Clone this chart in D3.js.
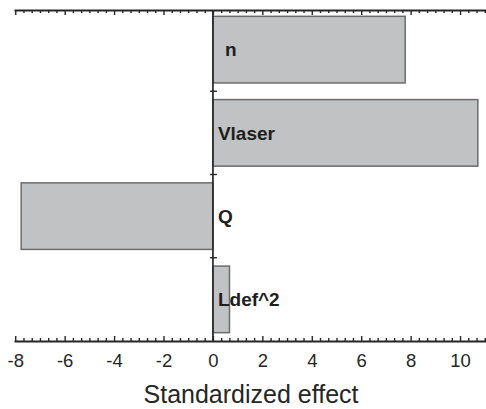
<!DOCTYPE html>
<html>
<head>
<meta charset="utf-8">
<script src="https://cdn.jsdelivr.net/npm/d3@7"></script>
<style>
  html, body { margin: 0; padding: 0; background: #fff; }
  svg { display: block; font-family: "Liberation Sans", Arial, sans-serif; }
</style>
</head>
<body>
<svg id="chart" width="486" height="409"></svg>
<script>
// Pareto-style effects: factor names and their standardized effects
const factors = ["n", "Vlaser", "Q", "Ldef^2"];
const effects = [7.78, 10.72, -7.76, 0.67];
const majorTicks = [-8, -6, -4, -2, 0, 2, 4, 6, 8, 10];
const axisTitle = "Standardized effect";

const svg = d3.select("#chart");

const x = d3.scaleLinear().domain([-8.05, 11.05]).range([14, 486]);
const y = d3.scaleBand().domain(factors).range([8, 341])
  .paddingInner(0.2).paddingOuter(0.1);

const yTop = 10, yBottom = 341;
const axisColor = "#262626";

// minor ticks every third of a unit, skipping the majors
const minorValues = d3.range(-24, 34).map(i => i / 3)
  .filter(v => v <= 11.05 && Math.abs(v / 2 - Math.round(v / 2)) > 1e-6);

// bars
svg.append("g").selectAll("rect")
  .data(factors)
  .join("rect")
  .attr("x", (d, i) => x(Math.min(0, effects[i])))
  .attr("width", (d, i) => Math.abs(x(effects[i]) - x(0)))
  .attr("y", d => y(d))
  .attr("height", y.bandwidth())
  .attr("fill", "#c0c2c4")
  .attr("stroke", "#6c6c6c")
  .attr("stroke-width", 1.5);

// draws the minor tick marks of one horizontal axis, without labels
function minorTicksInto(g, axisFn) {
  const m = g.append("g").call(axisFn(x).tickValues(minorValues).tickSize(-3).tickSizeOuter(0));
  m.select(".domain").remove();
  m.selectAll("text").remove();
}

// bottom axis with inward ticks
const bottomAxis = svg.append("g").attr("transform", `translate(0,${yBottom})`);
bottomAxis.call(d3.axisBottom(x).tickValues(majorTicks).tickSize(-5).tickSizeOuter(0)
  .tickPadding(13).tickFormat(d => d < 0 ? "-" + Math.abs(d) : String(d)));
minorTicksInto(bottomAxis, d3.axisBottom);

// top axis, ticks only
const topAxis = svg.append("g").attr("transform", `translate(0,${yTop})`);
topAxis.call(d3.axisTop(x).tickValues(majorTicks).tickSize(-5).tickSizeOuter(0));
topAxis.selectAll("text").remove();
minorTicksInto(topAxis, d3.axisTop);

svg.selectAll(".domain, .tick line")
  .attr("stroke", axisColor)
  .attr("stroke-width", 1.4);
svg.selectAll(".domain").attr("stroke-width", 1.8);

bottomAxis.selectAll("text")
  .attr("font-size", 18.5)
  .attr("fill", "#262626")
  .attr("font-family", "Liberation Sans, Arial, sans-serif");

// zero line with category boundary ticks
const x0 = x(0);
svg.append("line")
  .attr("x1", x0).attr("x2", x0)
  .attr("y1", yTop).attr("y2", yBottom)
  .attr("stroke", axisColor).attr("stroke-width", 1.7);

const step = y.step();
svg.append("g").selectAll("line")
  .data(factors.slice(1))
  .join("line")
  .attr("x1", x0 - 3).attr("x2", x0 + 4)
  .attr("y1", d => y(d) - step * y.paddingInner() / 2)
  .attr("y2", d => y(d) - step * y.paddingInner() / 2)
  .attr("stroke", axisColor).attr("stroke-width", 1.4);

// factor labels just right of the zero line
svg.append("g").selectAll("text")
  .data(factors)
  .join("text")
  .attr("x", d => x0 + (d === "n" ? 12 : 5))
  .attr("y", d => y(d) + y.bandwidth() / 2)
  .attr("dy", "0.36em")
  .attr("font-size", 19)
  .attr("font-weight", "bold")
  .attr("fill", "#1e1e1e")
  .text(d => d);

// axis title
svg.append("text")
  .attr("x", 251)
  .attr("y", 403)
  .attr("text-anchor", "middle")
  .attr("font-size", 25)
  .attr("fill", "#262626")
  .text(axisTitle);
</script>
</body>
</html>
